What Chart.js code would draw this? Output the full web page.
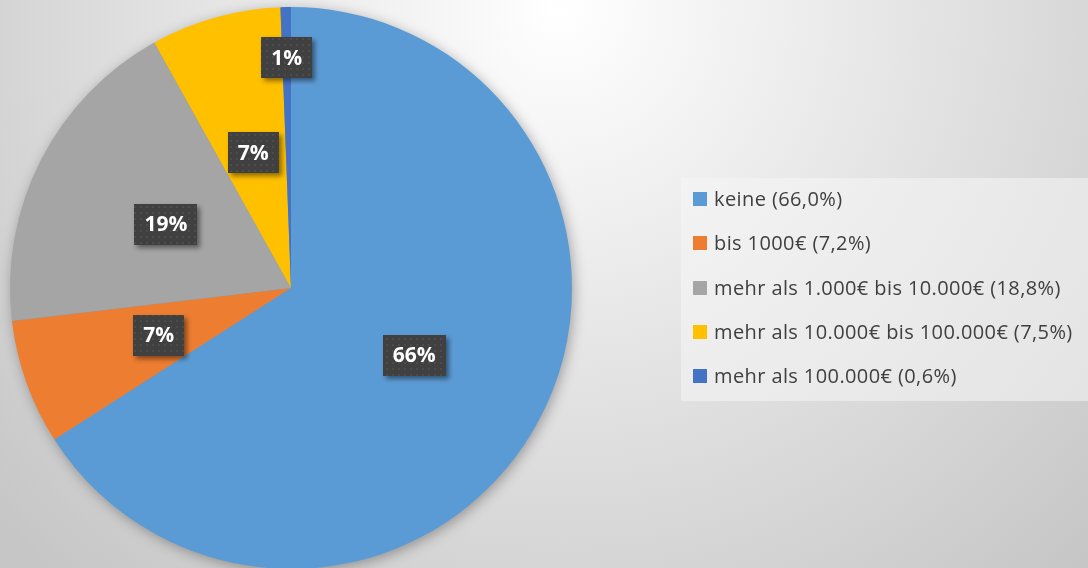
<!DOCTYPE html>
<html>
<head>
<meta charset="utf-8">
<script src="https://cdn.jsdelivr.net/npm/chart.js@4/dist/chart.umd.min.js"></script>
<style>
html,body{margin:0;padding:0;overflow:hidden;background:#e0e0e0;}
#wrap{position:relative;width:1088px;height:568px;}
</style>
</head>
<body>
<div id="wrap"><canvas id="c" width="1088" height="568"></canvas></div>
<script>
const categories = ["keine (66,0%)", "bis 1000€ (7,2%)", "mehr als 1.000€ bis 10.000€ (18,8%)", "mehr als 10.000€ bis 100.000€ (7,5%)", "mehr als 100.000€ (0,6%)"];
const values = [66.0, 7.2, 18.8, 7.5, 0.6];
const dataLabels = ["66%", "7%", "19%", "7%", "1%"];
const colors = ["#5B9BD5", "#ED7D31", "#A5A5A5", "#FFC000", "#4472C4"];
const labelRadiusFactor = [0.5, 0.5, 0.5, 0.5, 0.82];

function makePattern(ctx){
  const p = document.createElement('canvas');
  p.width = 6; p.height = 6;
  const pc = p.getContext('2d');
  pc.fillStyle = '#404040'; pc.fillRect(0,0,6,6);
  pc.fillStyle = '#4c4c4c'; pc.fillRect(2,2,2,2);
  return ctx.createPattern(p, 'repeat');
}

const bgPlugin = {
  id: 'bg',
  beforeDraw(chart){
    const ctx = chart.ctx;
    ctx.save();
    const g = ctx.createRadialGradient(560, 10, 0, 560, 10, 760);
    g.addColorStop(0, '#ffffff');
    g.addColorStop(1, '#c6c6c6');
    ctx.fillStyle = g;
    ctx.fillRect(0, 0, chart.width, chart.height);
    ctx.fillStyle = 'rgba(245,245,245,0.55)';
    ctx.fillRect(681, 178, 407, 223);
    ctx.restore();
  },
  beforeDatasetsDraw(chart){
    const arc = chart.getDatasetMeta(0).data[0];
    if(!arc) return;
    const p = arc.getProps(['x','y','outerRadius'], true);
    const ctx = chart.ctx;
    ctx.save();
    ctx.shadowColor = 'rgba(0,0,0,0.35)';
    ctx.shadowBlur = 14;
    ctx.shadowOffsetX = 2;
    ctx.shadowOffsetY = 3;
    ctx.fillStyle = colors[0];
    ctx.beginPath();
    ctx.arc(p.x, p.y, p.outerRadius - 1, 0, Math.PI*2);
    ctx.fill();
    ctx.restore();
  }
};

const labelPlugin = {
  id: 'plabels',
  afterDatasetsDraw(chart){
    const ctx = chart.ctx;
    const pattern = makePattern(ctx);
    const meta = chart.getDatasetMeta(0);
    meta.data.forEach((arc, i) => {
      const p = arc.getProps(['x','y','startAngle','endAngle','outerRadius'], true);
      const mid = (p.startAngle + p.endAngle) / 2;
      const r = p.outerRadius * labelRadiusFactor[i];
      const x = p.x + Math.cos(mid) * r;
      const y = p.y + Math.sin(mid) * r;
      const txt = dataLabels[i];
      ctx.save();
      ctx.font = 'bold 21px "Open Sans", sans-serif';
      const w = ctx.measureText(txt).width + 20;
      const h = 41;
      ctx.shadowColor = 'rgba(0,0,0,0.45)';
      ctx.shadowBlur = 5;
      ctx.shadowOffsetX = 3;
      ctx.shadowOffsetY = 3;
      ctx.fillStyle = pattern;
      ctx.fillRect(Math.round(x - w/2), Math.round(y - h/2), Math.round(w), h);
      ctx.shadowColor = 'transparent';
      ctx.fillStyle = '#ffffff';
      ctx.textAlign = 'center';
      ctx.textBaseline = 'middle';
      ctx.fillText(txt, x, y + 1);
      ctx.restore();
    });
  }
};

const legendPlugin = {
  id: 'clegend',
  afterDraw(chart){
    const ctx = chart.ctx;
    const rows = [199, 243, 288, 332, 376];
    ctx.save();
    ctx.font = '20px "Open Sans", sans-serif';
    try { ctx.letterSpacing = '0.4px'; } catch(e) {}
    ctx.textBaseline = 'middle';
    ctx.textAlign = 'left';
    chart.data.labels.forEach((lab, i) => {
      const y = rows[i];
      ctx.fillStyle = chart.data.datasets[0].backgroundColor[i];
      ctx.fillRect(693, y - 7, 14, 14);
      ctx.fillStyle = '#404040';
      ctx.fillText(lab, 714, y + 1);
    });
    ctx.restore();
  }
};

new Chart(document.getElementById('c'), {
  type: 'pie',
  data: {
    labels: categories,
    datasets: [{
      data: values,
      backgroundColor: colors,
      borderWidth: 0,
      radius: 281,
      clip: false
    }]
  },
  options: {
    responsive: false,
    animation: false,
    layout: { padding: { left: 0, right: 506, top: 8, bottom: 0 } },
    plugins: {
      legend: { display: false },
      tooltip: { enabled: false }
    }
  },
  plugins: [bgPlugin, labelPlugin, legendPlugin]
});
</script>
</body>
</html>
